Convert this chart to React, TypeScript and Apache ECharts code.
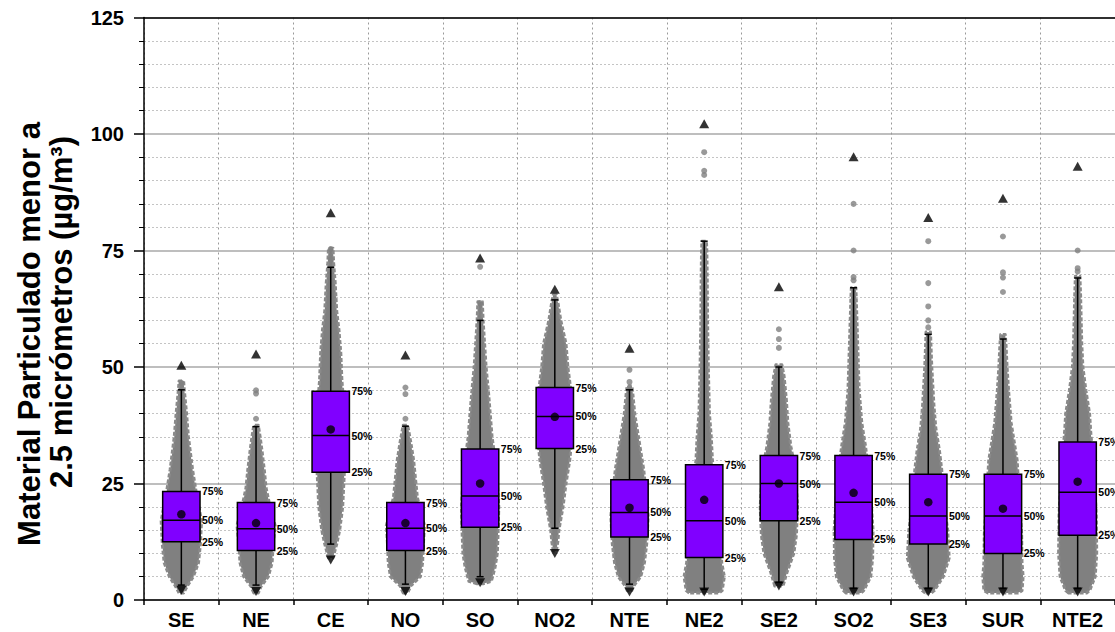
import React, { useEffect, useRef } from "react";
import * as echarts from "echarts";

const stations = ["SE", "NE", "CE", "NO", "SO", "NO2", "NTE", "NE2", "SE2", "SO2", "SE3", "SUR", "NTE2"];
const yMin = 0;
const yMax = 125;
const yInterval = 25;

const whiskerLow = [3.2, 3.2, 12.0, 3.4, 5.0, 15.4, 3.4, 2.3, 3.8, 2.5, 2.5, 2.5, 2.5];
const q1 = [12.5, 10.6, 27.4, 10.6, 15.6, 32.5, 13.5, 9.1, 17.0, 13.0, 12.0, 10.0, 13.9];
const median = [17.1, 15.3, 35.3, 15.4, 22.3, 39.4, 18.8, 17.0, 25.0, 21.0, 18.0, 18.0, 23.1];
const q3 = [23.3, 20.9, 44.8, 20.9, 32.4, 45.6, 25.8, 29.0, 31.0, 31.0, 27.0, 27.0, 33.9];
const whiskerHigh = [45.1, 37.2, 71.4, 37.3, 60.0, 64.4, 45.1, 77.0, 50.0, 67.0, 57.0, 56.0, 69.1];
const meanValues = [18.4, 16.5, 36.6, 16.5, 25.0, 39.3, 19.8, 21.5, 25.0, 23.0, 21.0, 19.6, 25.4];
const maxValues = [50.4, 52.8, 83.1, 52.6, 73.4, 66.7, 54.0, 102.2, 67.2, 95.1, 82.1, 86.2, 93.1];
const minValues = [2.1, 1.8, 8.6, 1.8, 3.7, 10.0, 1.7, 1.7, 3.0, 1.7, 1.7, 1.7, 1.7];

const outliers: number[][] = [
  [46.6],
  [38.9, 44.3, 45.0],
  [73.1, 75.3],
  [38.9, 44.2, 45.6],
  [63.7, 71.5],
  [],
  [46.8, 49.4],
  [91.2, 92.1, 96.1],
  [54.1, 56.0, 58.1],
  [68.6, 69.3, 75.0, 85.0],
  [58.5, 60.0, 63.0, 68.0, 77.0],
  [66.1, 69.2, 70.3, 78.0],
  [70.5, 71.2, 75.0],
];

// Point-cloud outline: [value, half-spread in category bands]
const cloudProfiles: number[][][] = [
  [[1.5, 0.03], [3, 0.08], [5, 0.16], [8, 0.23], [12, 0.255], [17, 0.27], [23, 0.2], [28, 0.15], [35, 0.095], [40, 0.07], [45, 0.04], [47, 0.03]],
  [[1.5, 0.03], [3, 0.07], [5, 0.165], [8, 0.215], [12, 0.23], [16, 0.255], [21, 0.175], [24, 0.135], [28, 0.11], [32, 0.08], [35, 0.055], [37.5, 0.03]],
  [[9, 0.03], [12, 0.08], [15, 0.12], [20, 0.16], [25, 0.175], [30, 0.19], [36, 0.19], [42, 0.175], [47, 0.15], [53, 0.135], [58, 0.11], [62, 0.08], [68, 0.06], [72, 0.04], [75.5, 0.03]],
  [[1.5, 0.03], [3, 0.07], [5, 0.2], [8, 0.23], [12, 0.24], [16, 0.255], [22, 0.16], [26, 0.135], [30, 0.11], [34, 0.07], [37.5, 0.03]],
  [[3.5, 0.04], [4, 0.15], [7, 0.2], [10, 0.23], [14, 0.24], [20, 0.25], [28, 0.22], [35, 0.16], [40, 0.135], [45, 0.11], [50, 0.08], [55, 0.06], [60, 0.04], [64, 0.03]],
  [[10.5, 0.02], [12.5, 0.04], [15, 0.055], [20, 0.11], [25, 0.15], [30, 0.2], [35, 0.23], [40, 0.23], [45, 0.215], [50, 0.175], [55, 0.15], [60, 0.08], [64, 0.04], [65.5, 0.02]],
  [[2, 0.03], [3, 0.055], [5, 0.15], [8, 0.2], [12, 0.23], [18, 0.25], [25, 0.21], [28, 0.19], [32, 0.15], [36, 0.11], [40, 0.07], [45, 0.04], [46, 0.03]],
  [[1.5, 0.2], [2, 0.24], [5, 0.27], [8, 0.235], [12, 0.22], [20, 0.18], [30, 0.11], [35, 0.095], [40, 0.07], [50, 0.055], [60, 0.045], [70, 0.04], [75, 0.035], [77, 0.03]],
  [[3, 0.055], [6, 0.11], [10, 0.2], [14, 0.235], [20, 0.25], [28, 0.22], [33, 0.16], [38, 0.12], [43, 0.1], [48, 0.07], [50.5, 0.04]],
  [[1.5, 0.1], [2, 0.135], [5, 0.23], [9, 0.255], [15, 0.26], [25, 0.22], [33, 0.16], [38, 0.11], [45, 0.075], [55, 0.055], [65, 0.035], [67, 0.03]],
  [[1.5, 0.04], [2, 0.08], [5, 0.2], [9, 0.28], [15, 0.26], [22, 0.2], [28, 0.18], [32, 0.15], [37, 0.1], [42, 0.075], [50, 0.047], [55, 0.035], [57.5, 0.03]],
  [[1.5, 0.2], [2, 0.255], [5, 0.27], [8, 0.255], [14, 0.25], [22, 0.22], [30, 0.19], [33, 0.16], [38, 0.11], [45, 0.075], [50, 0.055], [55, 0.04], [57, 0.03]],
  [[1.5, 0.12], [2, 0.16], [5, 0.235], [10, 0.255], [18, 0.25], [28, 0.22], [36, 0.175], [40, 0.16], [45, 0.11], [50, 0.07], [55, 0.055], [60, 0.047], [65, 0.04], [69.5, 0.03]],
];

const percentLabels = ["75%", "50%", "25%"];
const titleLine1 = "Material Particulado menor a";
const titleLine2 = "2.5 micrómetros (µg/m³)";

const FONT = '"Liberation Sans", Arial, Helvetica, sans-serif';

export default function App() {
  const ref = useRef<HTMLDivElement>(null);

  useEffect(() => {
    if (!ref.current) return;
    const chart = echarts.init(ref.current, undefined, { renderer: "svg" });

    const boxData = stations.map((_, i) => [i, whiskerLow[i], q1[i], median[i], q3[i], whiskerHigh[i]]);
    const cloudData = stations.map((_, i) => [i, median[i]]);
    const outlierData: number[][] = [];
    outliers.forEach((arr, i) => arr.forEach((v) => outlierData.push([i, v])));

    const option: any = {
      animation: false,
      backgroundColor: "#ffffff",
      grid: { left: 144, right: 0, top: 17.5, bottom: 32, containLabel: false },
      graphic: [
        {
          type: "text",
          x: 29,
          y: 334,
          rotation: Math.PI / 2,
          style: {
            text: titleLine1,
            fill: "#000",
            fontSize: 31,
            fontWeight: "bold",
            fontFamily: FONT,
            align: "center",
            verticalAlign: "middle",
            textAlign: "center",
            textVerticalAlign: "middle",
          },
        },
        {
          type: "text",
          x: 61,
          y: 312,
          rotation: Math.PI / 2,
          style: {
            text: titleLine2,
            fill: "#000",
            fontSize: 31,
            fontWeight: "bold",
            fontFamily: FONT,
            align: "center",
            verticalAlign: "middle",
            textAlign: "center",
            textVerticalAlign: "middle",
          },
        },
      ],
      xAxis: [
        {
          type: "category",
          data: stations,
          boundaryGap: true,
          axisLine: { show: true, lineStyle: { color: "#000", width: 1.5 } },
          axisTick: { show: true, length: 5, lineStyle: { color: "#000", width: 1.5 } },
          axisLabel: { color: "#000", fontSize: 20, fontWeight: "bold", fontFamily: FONT, margin: 10 },
          splitLine: { show: true, lineStyle: { color: "#999999", width: 1, type: [2, 3] } },
        },
        {
          type: "category",
          data: stations,
          position: "top",
          boundaryGap: true,
          axisLine: { show: true, lineStyle: { color: "#000", width: 1.5 } },
          axisTick: { show: false },
          axisLabel: { show: false },
          splitLine: { show: false },
        },
      ],
      yAxis: {
        type: "value",
        min: yMin,
        max: yMax,
        interval: yInterval,
        axisLine: { show: true, lineStyle: { color: "#000", width: 1.5 } },
        axisTick: { show: true, length: 10, lineStyle: { color: "#000", width: 1.5 } },
        minorTick: { show: true, splitNumber: 5, length: 5, lineStyle: { color: "#000", width: 1 } },
        axisLabel: { color: "#000", fontSize: 20, fontWeight: "bold", fontFamily: FONT, margin: 20 },
        splitLine: { show: true, lineStyle: { color: "#a8a8a8", width: 1.5 } },
        minorSplitLine: { show: true, lineStyle: { color: "#c4c4c4", width: 1, type: [2, 2] } },
      },
      series: [
        {
          type: "custom",
          name: "cloud",
          z: 2,
          data: cloudData,
          encode: { x: 0, y: 1 },
          renderItem: (params: any, api: any) => {
            const idx = api.value(0);
            const prof = cloudProfiles[idx];
            const band = api.size([1, 0])[0];
            const cx = api.coord([idx, 0])[0];
            const left = prof.map(([v, s]) => [cx - s * band, api.coord([idx, v])[1]]);
            const right = prof.map(([v, s]) => [cx + s * band, api.coord([idx, v])[1]]).reverse();
            return {
              type: "polygon",
              shape: { points: left.concat(right) },
              style: { fill: "#808080", stroke: "#8a8a8a", lineWidth: 3, lineDash: [4, 2], lineJoin: "round" },
            };
          },
        },
        {
          type: "scatter",
          name: "outliers",
          z: 3,
          data: outlierData,
          symbol: "circle",
          symbolSize: 6,
          itemStyle: { color: "#808080" },
        },
        {
          type: "custom",
          name: "box",
          z: 4,
          data: boxData,
          encode: { x: 0, y: [1, 2, 3, 4, 5] },
          renderItem: (params: any, api: any) => {
            const i = api.value(0);
            const lo = api.coord([i, api.value(1)]);
            const p1 = api.coord([i, api.value(2)]);
            const pm = api.coord([i, api.value(3)]);
            const p3 = api.coord([i, api.value(4)]);
            const hi = api.coord([i, api.value(5)]);
            const band = api.size([1, 0])[0];
            const half = band * 0.25;
            const cx = lo[0];
            const cap = 3.5;
            const ls = { stroke: "#000", lineWidth: 1.5 };
            const txt = (t: string, y: number) => ({
              type: "text",
              x: cx + half + 2,
              y,
              style: {
                text: t,
                fill: "#000",
                fontSize: 10.5,
                fontWeight: "bold",
                fontFamily: FONT,
                align: "left",
                verticalAlign: "middle",
                textAlign: "left",
                textVerticalAlign: "middle",
              },
            });
            return {
              type: "group",
              children: [
                { type: "line", shape: { x1: cx, y1: lo[1], x2: cx, y2: hi[1] }, style: ls },
                { type: "line", shape: { x1: cx - cap, y1: lo[1], x2: cx + cap, y2: lo[1] }, style: ls },
                { type: "line", shape: { x1: cx - cap, y1: hi[1], x2: cx + cap, y2: hi[1] }, style: ls },
                {
                  type: "rect",
                  shape: { x: cx - half, y: p3[1], width: half * 2, height: p1[1] - p3[1] },
                  style: { fill: "#8000ff", stroke: "#000", lineWidth: 1.5 },
                },
                { type: "line", shape: { x1: cx - half, y1: pm[1], x2: cx + half, y2: pm[1] }, style: ls },
                txt(percentLabels[0], p3[1]),
                txt(percentLabels[1], pm[1]),
                txt(percentLabels[2], p1[1]),
              ],
            };
          },
        },
        {
          type: "scatter",
          name: "mean",
          z: 5,
          data: meanValues.map((v, i) => [i, v]),
          symbol: "circle",
          symbolSize: 8.5,
          itemStyle: { color: "#000" },
        },
        {
          type: "scatter",
          name: "max",
          z: 5,
          data: maxValues.map((v, i) => [i, v]),
          symbol: "triangle",
          symbolSize: [10, 9],
          itemStyle: { color: "#000" },
        },
        {
          type: "scatter",
          name: "min",
          z: 5,
          data: minValues.map((v, i) => [i, v]),
          symbol: "triangle",
          symbolRotate: 180,
          symbolSize: [10, 9],
          itemStyle: { color: "#000" },
        },
      ],
    };

    chart.setOption(option);
    return () => chart.dispose();
  }, []);

  return <div ref={ref} style={{ position: "absolute", left: 0, top: 0, width: 1115, height: 632 }} />;
}
